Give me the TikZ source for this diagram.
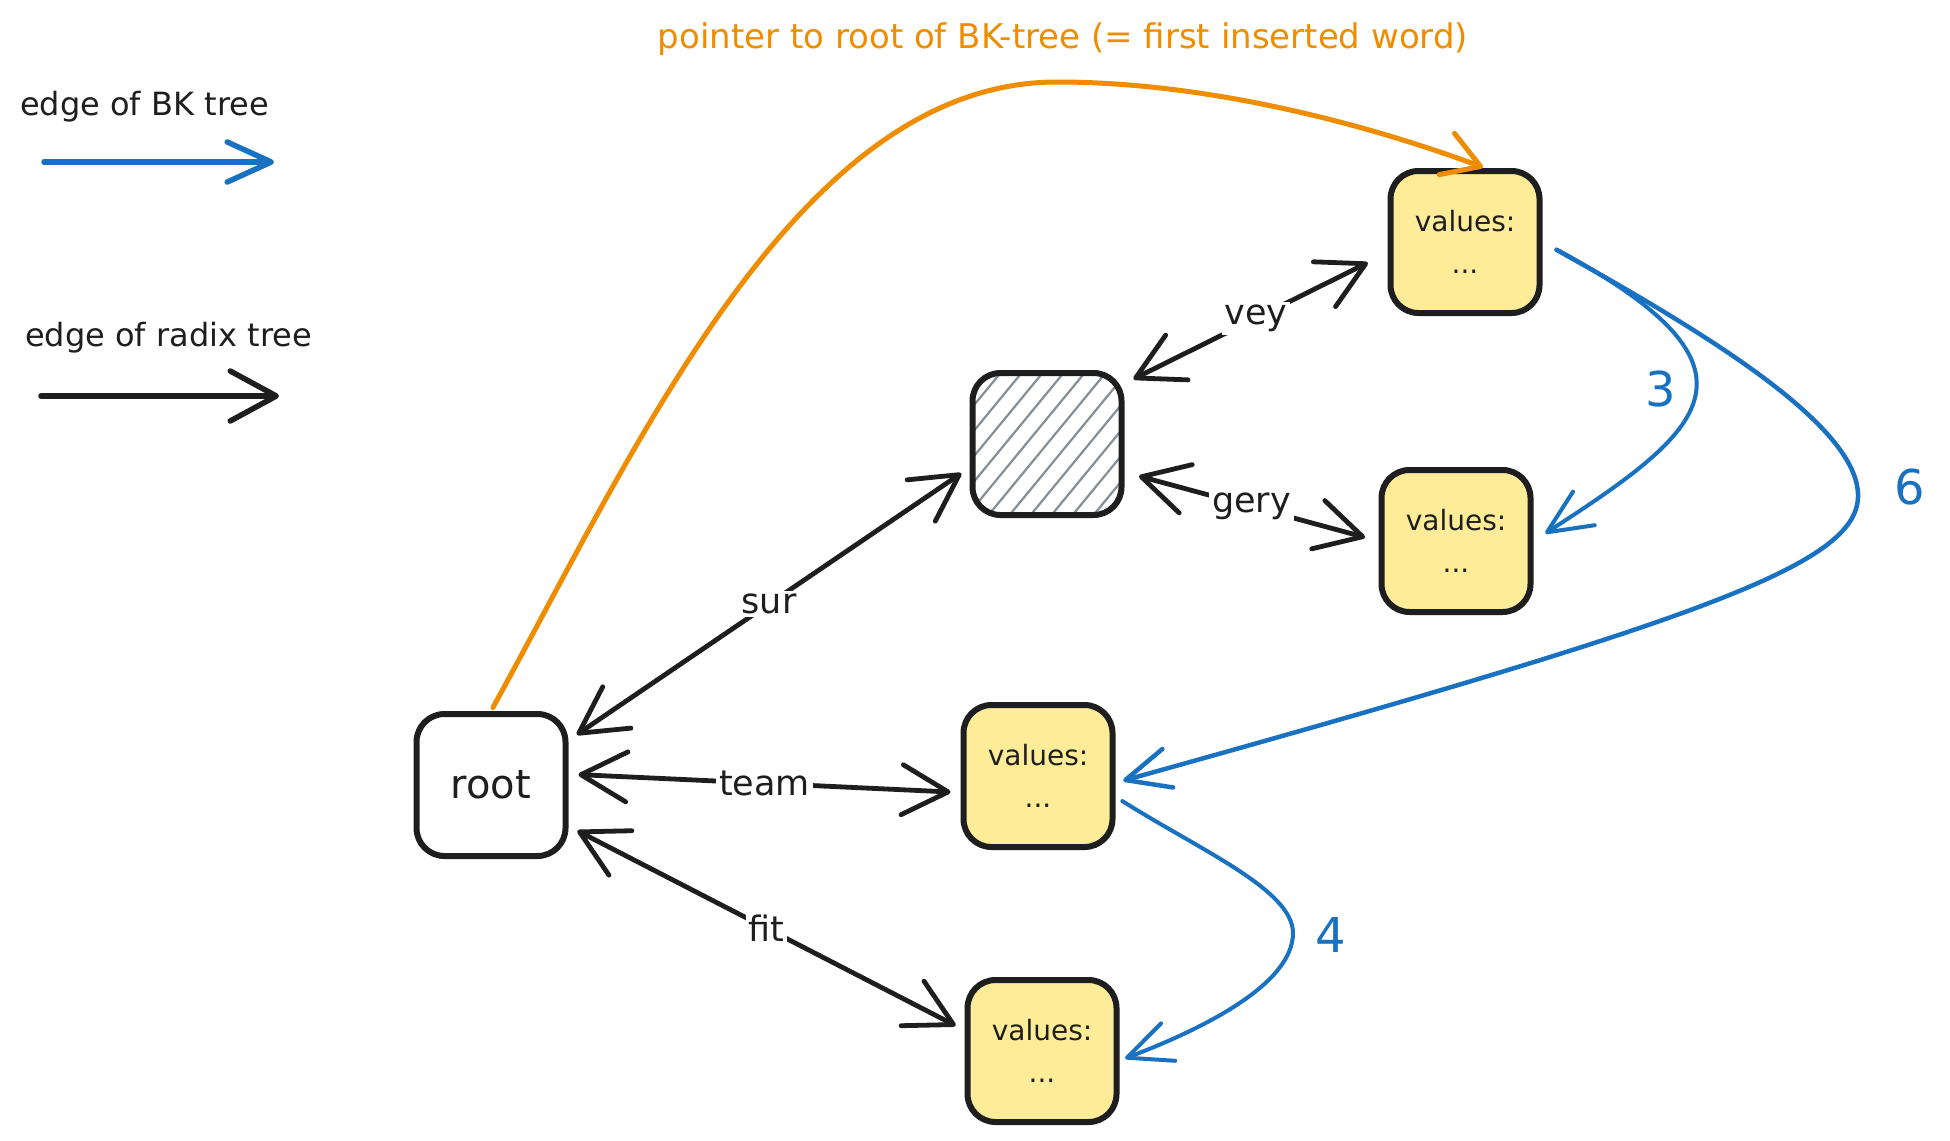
\documentclass[tikz,border=0pt]{standalone}
\usepackage{fontspec}
\setmainfont{DejaVu Sans}
\usetikzlibrary{arrows.meta}
\definecolor{ink}{HTML}{1E1E1E}
\definecolor{bkblue}{HTML}{1971C2}
\definecolor{ptrorange}{HTML}{F08C00}
\definecolor{valyellow}{HTML}{FFEC99}
\definecolor{hatchgray}{HTML}{868E96}
\begin{document}
\begin{tikzpicture}[x=1pt,y=-1pt,
  box/.style={draw=ink, line width=6pt, rounded corners=28pt, minimum width=149pt, minimum height=142pt, align=center, inner sep=0pt, text=ink},
  valbox/.style={box, fill=valyellow, font=\fontsize{28}{42}\selectfont},
  radixline/.style={draw=ink, line width=4.8pt, line cap=round, line join=round},
  radixtip/.tip={Straight Barb[length=46pt,width=50pt,round]},
  radix/.style={radixline, radixtip-radixtip, shorten <=10pt, shorten >=10pt},
  bktip/.tip={Straight Barb[length=44pt,width=40pt,round]},
  bk/.style={draw=bkblue, line width=4pt, line cap=round, line join=round, -bktip},
  ptr/.style={draw=ptrorange, line width=5pt, line cap=round, line join=round, -{Straight Barb[length=36pt,width=44pt,round]}},
  elabel/.style={fill=white, inner sep=3pt, font=\fontsize{35}{40}\selectfont, text=ink},
  bklabel/.style={inner sep=0pt, font=\fontsize{48}{56}\selectfont, text=bkblue},
  legendtext/.style={anchor=west, inner sep=0pt, font=\fontsize{32}{38}\selectfont, text=ink},
  hatchln/.style={draw=hatchgray, line width=2.2pt}
]
\fill[white] (0,0) rectangle (1950,1140);
\useasboundingbox (0,0) rectangle (1950,1140);

% title
\node[inner sep=0pt, font=\fontsize{34}{40}\selectfont, text=ptrorange] (title) at (1063,39) {pointer to root of BK-tree (= first inserted word)};

% legend
\node[legendtext] (lg1) at (20,107) {edge of BK tree};
\coordinate (lg1a) at (44,162);
\coordinate (lg1b) at (274,162);
\draw[bk, line width=5.5pt] (lg1a) -- (lg1b);
\node[legendtext] (lg2) at (25,338) {edge of radix tree};
\coordinate (lg2a) at (41,396);
\coordinate (lg2b) at (279,396);
\draw[radixline, line width=5.5pt, -radixtip] (lg2a) -- (lg2b);

% nodes
\node[box, fill=white, font=\fontsize{40}{48}\selectfont] (root) at (491,785) {root};
\node[box, fill=white, path picture={
    \foreach \k in {-8,...,8} {
      \draw[hatchln] ([xshift=\k*21pt]path picture bounding box.center) ++(-70,85) -- ++(140,-170);
    }
  }] (hatch) at (1047,444) {};
\node[valbox] (top) at (1465,242) {values:\\...};
\node[valbox] (mid) at (1456,541) {values:\\...};
\node[valbox] (team) at (1038,776) {values:\\...};
\node[valbox] (fit) at (1042,1051) {values:\\...};

% radix edges
\draw[radix] (root.30) -- node[elabel] {sur} (hatch.197);
\draw[radix] (root.8) -- node[elabel] {team} (team.192);
\draw[radix] (root.-28) -- node[elabel] {fit} (fit.165);
\draw[radix, shorten >=22pt] (hatch.38) -- node[elabel] {vey} (top.188);
\draw[radix, shorten <=15pt, shorten >=14pt] (hatch.-20) -- node[elabel] {gery} (mid.180);

% BK edges
\draw[bk, shorten <=16pt, shorten >=14pt] (top.east) .. controls (1780,370) and (1705,430) .. (mid.east);
\draw[bk, line width=4.5pt, shorten <=16pt, shorten >=8pt] (top.east) .. controls (1700,330) and (1860,425) .. (1858,497) .. controls (1856,565) and (1700,620) .. (team.-5);
\draw[bk, shorten <=8pt, shorten >=6pt] (team.-15) .. controls (1200,850) and (1293,890) .. (1293,933) .. controls (1293,985) and (1200,1030) .. (fit.-7);
\node[bklabel] (n3) at (1661,389) {3};
\node[bklabel] (n6) at (1910,487) {6};
\node[bklabel] (n4) at (1331,935) {4};

% pointer to root of BK-tree
\draw[ptr, shorten <=4pt, shorten >=2pt] (root.north) .. controls (640,440) and (800,82) .. (1057,82) .. controls (1200,82) and (1355,120) .. (top.75);
\end{tikzpicture}
\end{document}
